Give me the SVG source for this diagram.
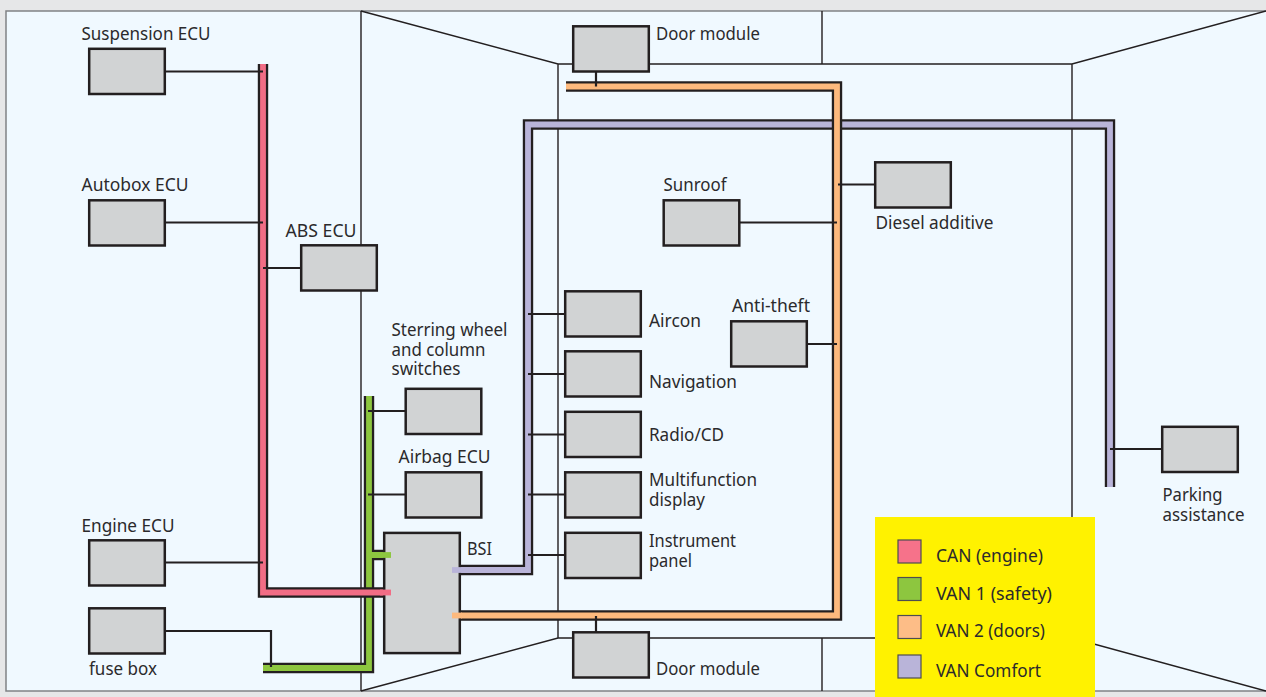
<svg xmlns="http://www.w3.org/2000/svg" width="1266" height="697" viewBox="0 0 1266 697">
<style>
text{font-family:"Noto Sans","Open Sans","Liberation Sans",sans-serif;font-size:18.500px;fill:#2b2a2c}
.room{fill:none;stroke:#231f20;stroke-width:1.4}
.box{fill:#d1d3d4;stroke:#231f20;stroke-width:2.500}
.wire{fill:none;stroke:#231f20;stroke-width:2.2}
.o{fill:none;stroke:#231f20;stroke-width:10.400}
.c{fill:none;stroke-width:5.800}
.can{stroke:#f26d85}.v1{stroke:#8dc63f}.v2{stroke:#fdb97d}.vc{stroke:#b9b4d9}
.sw{stroke:#4d4d4f;stroke-width:1.2}
</style>
<rect width="1266" height="697" fill="#e6e7e8"/>
<rect x="6" y="11" width="1262" height="680" fill="#f0f9ff" stroke="#808285" stroke-width="1.5"/>
<g id="room">
<path class="room" d="M361 11V691M361 11L558 64H1072L1266 11M361 691L558 638H1072L1266 691M558 64V638M1072 64V638M822 11V64M822 638V691"/>
</g>
<g id="connectors">
<path class="o" d="M369 396V668H263M369 555H384"/>
<path class="c v1" d="M369 396V668H263M369 555H391"/>
<path class="o" d="M263 64V592.500H384"/>
<path class="c can" d="M263 64V592.500H391"/>
<path class="o" d="M452 570H528V124.500H1110V487"/>
<path class="c vc" d="M452 570H528V124.500H1110V487"/>
<path class="o" d="M566 86.500H837V615.500H452"/>
<path class="c v2" d="M566 86.500H837V615.500H452"/>
<path class="wire" d="M165 71.500H263M165 222.500H263M165 562.500H263M263 268H301M165 631H271V667M368 411H405M368 494.500H405M596 72V86.500M596 632V616M528 314H565M528 374H565M528 434.500H565M528 494.500H565M528 555H565M740 222.500H837M808 344H837M838 184.500H875M1110 449H1162"/>
</g>
<g id="bsi"><rect class="box" x="384.200" y="532.900" width="75.600" height="120.200"/><path class="c vc" d="M452 570H462"/><path class="c v2" d="M452 615.500H462"/><path class="c can" d="M380 592.500H391"/><path class="c v1" d="M380 555H391"/><text x="467" y="555" textLength="25" lengthAdjust="spacingAndGlyphs">BSI</text></g>
<g id="suspension"><rect class="box" x="89.200" y="48.800" width="75.600" height="45.200"/><text x="81.500" y="40" textLength="129" lengthAdjust="spacingAndGlyphs">Suspension ECU</text></g>
<g id="autobox"><rect class="box" x="89.200" y="200.300" width="75.600" height="45.200"/><text x="81.500" y="191" textLength="107" lengthAdjust="spacingAndGlyphs">Autobox ECU</text></g>
<g id="abs"><rect class="box" x="301.200" y="245.300" width="75.600" height="45.200"/><text x="285.500" y="237" textLength="71" lengthAdjust="spacingAndGlyphs">ABS ECU</text></g>
<g id="engine"><rect class="box" x="89.200" y="540.300" width="75.600" height="45.200"/><text x="81.500" y="532" textLength="93" lengthAdjust="spacingAndGlyphs">Engine ECU</text></g>
<g id="fuse"><rect class="box" x="89.200" y="608.300" width="75.600" height="45.200"/><text x="89" y="675" textLength="68" lengthAdjust="spacingAndGlyphs">fuse box</text></g>
<g id="steering"><rect class="box" x="405.700" y="388.800" width="75.600" height="45.200"/><text x="391.500" y="336" textLength="116" lengthAdjust="spacingAndGlyphs">Sterring wheel</text><text x="391.500" y="356" textLength="94" lengthAdjust="spacingAndGlyphs">and column</text><text x="391.500" y="375" textLength="69" lengthAdjust="spacingAndGlyphs">switches</text></g>
<g id="airbag"><rect class="box" x="405.700" y="472.300" width="75.600" height="45.200"/><text x="398.500" y="463" textLength="92" lengthAdjust="spacingAndGlyphs">Airbag ECU</text></g>
<g id="door-top"><rect class="box" x="573.200" y="26.300" width="75.600" height="45.200"/><text x="656" y="40" textLength="104" lengthAdjust="spacingAndGlyphs">Door module</text></g>
<g id="door-bottom"><rect class="box" x="573.200" y="632.300" width="75.600" height="45.200"/><text x="656" y="675" textLength="104" lengthAdjust="spacingAndGlyphs">Door module</text></g>
<g id="sunroof"><rect class="box" x="663.700" y="200.300" width="75.600" height="45.200"/><text x="663.500" y="191" textLength="63" lengthAdjust="spacingAndGlyphs">Sunroof</text></g>
<g id="diesel"><rect class="box" x="875.200" y="162.300" width="75.600" height="45.200"/><text x="875.500" y="229" textLength="118" lengthAdjust="spacingAndGlyphs">Diesel additive</text></g>
<g id="aircon"><rect class="box" x="565.200" y="291.300" width="75.600" height="45.200"/><text x="649" y="327" textLength="52" lengthAdjust="spacingAndGlyphs">Aircon</text></g>
<g id="navigation"><rect class="box" x="565.200" y="351.300" width="75.600" height="45.200"/><text x="649" y="388" textLength="88" lengthAdjust="spacingAndGlyphs">Navigation</text></g>
<g id="radio"><rect class="box" x="565.200" y="411.800" width="75.600" height="45.200"/><text x="649" y="441" textLength="75" lengthAdjust="spacingAndGlyphs">Radio/CD</text></g>
<g id="multifunction"><rect class="box" x="565.200" y="472.300" width="75.600" height="45.200"/><text x="649" y="486" textLength="108" lengthAdjust="spacingAndGlyphs">Multifunction</text><text x="649" y="506" textLength="56" lengthAdjust="spacingAndGlyphs">display</text></g>
<g id="instrument"><rect class="box" x="565.200" y="532.800" width="75.600" height="45.200"/><text x="649" y="547" textLength="87" lengthAdjust="spacingAndGlyphs">Instrument</text><text x="649" y="567" textLength="43" lengthAdjust="spacingAndGlyphs">panel</text></g>
<g id="antitheft"><rect class="box" x="731.200" y="321.300" width="75.600" height="45.200"/><text x="732" y="312" textLength="78" lengthAdjust="spacingAndGlyphs">Anti-theft</text></g>
<g id="parking"><rect class="box" x="1162.200" y="426.800" width="75.600" height="45.200"/><text x="1162.500" y="501" textLength="60" lengthAdjust="spacingAndGlyphs">Parking</text><text x="1162.500" y="521" textLength="82" lengthAdjust="spacingAndGlyphs">assistance</text></g>
<g id="legend">
<rect x="875" y="517" width="220" height="180" fill="#fff200"/>
<rect class="sw" x="898" y="540" width="23" height="23" fill="#f6728a"/><text x="936" y="562" textLength="107" lengthAdjust="spacingAndGlyphs">CAN (engine)</text>
<rect class="sw" x="898" y="577.500" width="23" height="23" fill="#8dc63f"/><text x="936" y="600" textLength="116" lengthAdjust="spacingAndGlyphs">VAN 1 (safety)</text>
<rect class="sw" x="898" y="615.500" width="23" height="23" fill="#fdbd87"/><text x="936" y="637" textLength="109" lengthAdjust="spacingAndGlyphs">VAN 2 (doors)</text>
<rect class="sw" x="898" y="655" width="23" height="23" fill="#b9b4d9"/><text x="936" y="677" textLength="105" lengthAdjust="spacingAndGlyphs">VAN Comfort</text>
</g>
</svg>
